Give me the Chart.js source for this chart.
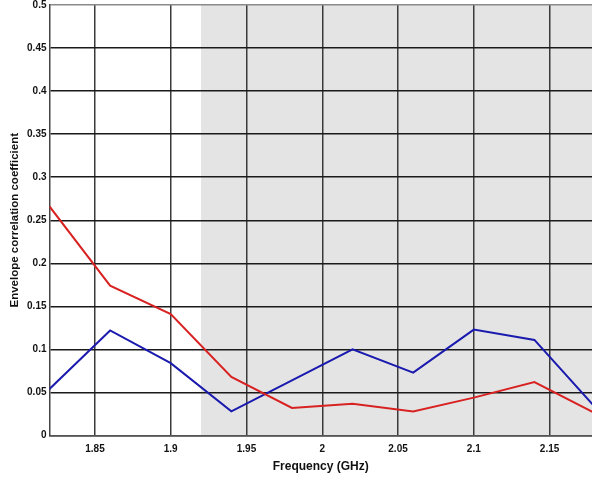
<!DOCTYPE html>
<html>
<head>
<meta charset="utf-8">
<script src="https://cdn.jsdelivr.net/npm/chart.js@4"></script>
<style>
  html, body { margin: 0; padding: 0; background: #ffffff; }
  #wrap { width: 592px; height: 477px; }
</style>
</head>
<body>
<div id="wrap"><canvas id="c" width="592" height="477"></canvas></div>
<script>
const frequencies = [1.82, 1.86, 1.90, 1.94, 1.98, 2.02, 2.06, 2.10, 2.14, 2.18];
const redSeries  = [0.266, 0.174, 0.141, 0.068, 0.032, 0.037, 0.028, 0.044, 0.062, 0.026];
const blueSeries = [0.054, 0.122, 0.084, 0.028, 0.064, 0.100, 0.073, 0.123, 0.111, 0.033];
const yTickLabels = ['0', '0.05', '0.1', '0.15', '0.2', '0.25', '0.3', '0.35', '0.4', '0.45', '0.5'];
const xTickLabels = ['1.85', '1.9', '1.95', '2', '2.05', '2.1', '2.15'];
const shadedFrom = 1.92;

const toPts = (ys) => frequencies.map((f, i) => ({ x: f, y: ys[i] }));

const shadePlugin = {
  id: 'shade',
  beforeDraw(chart) {
    const { ctx, chartArea, scales } = chart;
    const x0 = scales.x.getPixelForValue(shadedFrom);
    ctx.save();
    ctx.fillStyle = '#e4e4e4';
    ctx.fillRect(x0, chartArea.top, chartArea.right - x0, chartArea.bottom - chartArea.top);
    ctx.restore();
  }
};

const tickFont = { family: 'Liberation Sans, Arial, sans-serif', size: 10, weight: 'bold' };

new Chart(document.getElementById('c'), {
  type: 'line',
  data: {
    datasets: [
      { data: toPts(redSeries), borderColor: '#d82222', borderWidth: 2, pointRadius: 0, tension: 0, fill: false },
      { data: toPts(blueSeries), borderColor: '#1a1aae', borderWidth: 2, pointRadius: 0, tension: 0, fill: false }
    ]
  },
  options: {
    responsive: false,
    animation: false,
    layout: { padding: { top: 5, right: 0, left: 0, bottom: 0 } },
    plugins: { legend: { display: false }, tooltip: { enabled: false } },
    scales: {
      x: {
        type: 'linear',
        min: 1.82,
        max: 2.178,
        afterFit(scale) { scale.height = 41.5; scale.paddingLeft = 0; scale.paddingRight = 0; },
        ticks: {
          stepSize: 0.05,
          includeBounds: false,
          autoSkip: false,
          maxRotation: 0,
          color: '#111',
          font: tickFont,
          padding: 8,
          callback: (v) => {
            const s = xTickLabels.find(t => Math.abs(parseFloat(t) - v) < 1e-6);
            return s === undefined ? '' : s;
          }
        },
        grid: { color: '#3a3a3a', lineWidth: 1.5, drawTicks: false },
        border: { color: '#555', width: 1.5 },
        title: {
          display: true,
          text: 'Frequency (GHz)',
          color: '#111',
          font: { family: 'Liberation Sans, Arial, sans-serif', size: 12, weight: 'bold' },
          padding: { top: 2, bottom: 3 }
        }
      },
      y: {
        type: 'linear',
        min: 0,
        max: 0.5,
        afterFit(scale) { scale.width = 49.5; scale.paddingTop = 0; scale.paddingBottom = 0; },
        ticks: {
          stepSize: 0.05,
          color: '#111',
          font: tickFont,
          padding: 3,
          callback: (v) => {
            const i = Math.round(v / 0.05);
            return yTickLabels[i] !== undefined ? yTickLabels[i] : '';
          }
        },
        grid: {
          color: (c) => (c.tick && c.tick.value >= 0.499) ? '#8a8a8a' : '#1a1a1a',
          lineWidth: 1.5,
          drawTicks: false
        },
        border: { color: '#444', width: 1.5 },
        title: {
          display: true,
          text: 'Envelope correlation coefficient',
          color: '#111',
          font: { family: 'Liberation Sans, Arial, sans-serif', size: 11.5, weight: 'bold' },
          padding: { top: 8, bottom: 2 }
        }
      }
    }
  },
  plugins: [shadePlugin]
});
</script>
</body>
</html>
